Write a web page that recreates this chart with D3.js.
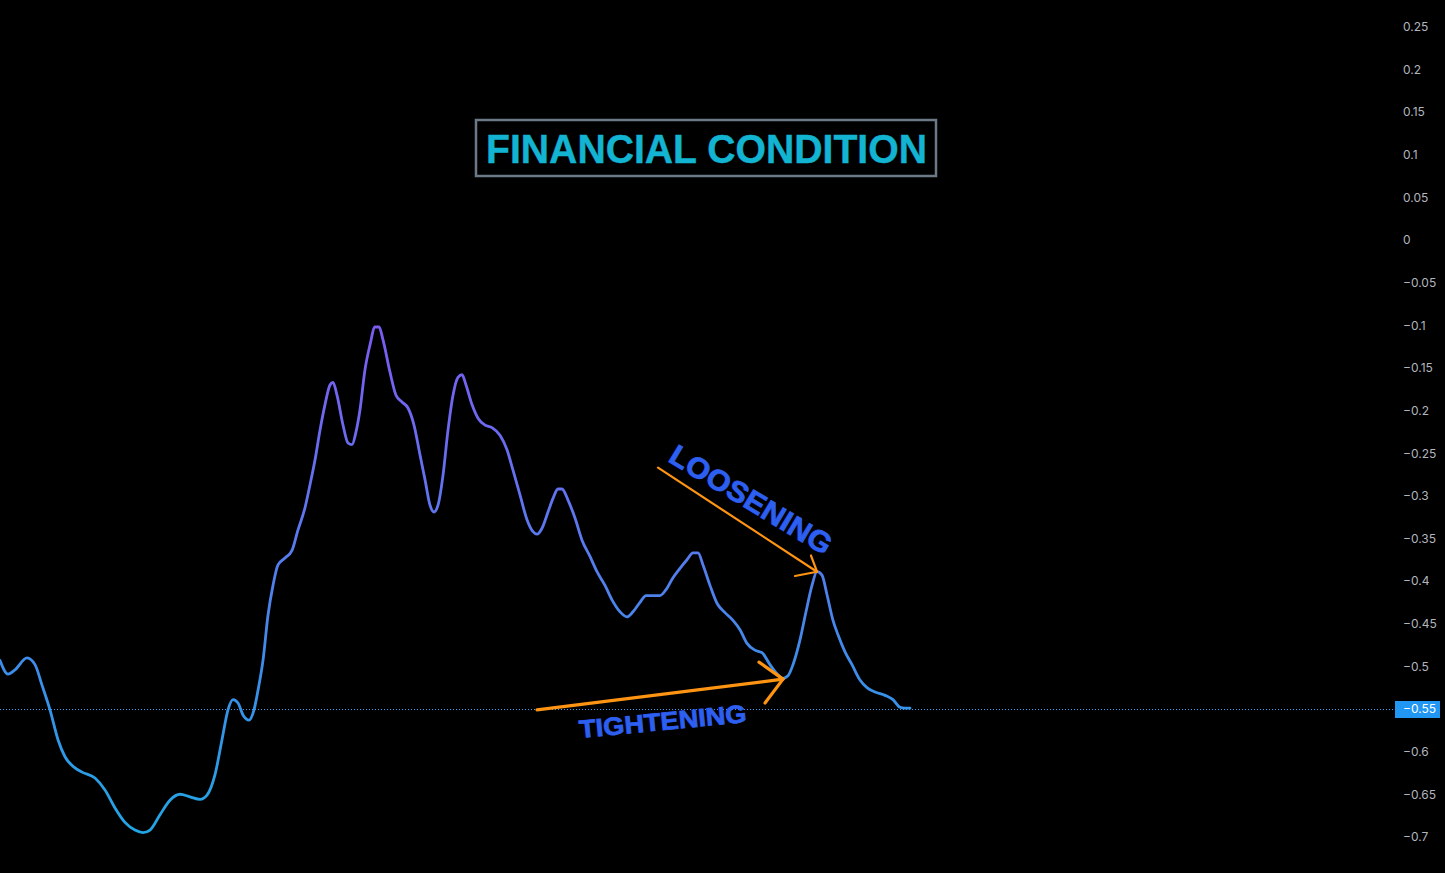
<!DOCTYPE html>
<meta charset="utf-8">
<html>
<head>
<script src="https://cdn.jsdelivr.net/npm/d3@7"></script>
<style>
  body { margin: 0; background: #000; }
  svg { display: block; }
</style>
</head>
<body>
<div id="chart"></div>
<script>
  // bar position and index value
  const bars = [0, 8, 15, 27, 35, 42, 50, 58, 65, 75, 82, 95, 105, 115, 125, 135, 143, 150, 160, 170,
    180, 190, 200, 207, 215, 222, 228, 233, 238, 243, 249, 254, 258, 263, 268, 273, 278, 285, 292, 298,
    305, 310, 315, 320, 325, 330, 333, 337, 343, 348, 352, 356, 360, 365, 370, 375, 379, 383, 390, 396,
    402, 408, 414, 420, 425, 430, 434, 438, 443, 448, 453, 458, 462, 466, 472, 478, 485, 492, 500, 507,
    513, 520, 527, 533, 537, 542, 548, 553, 558, 562, 568, 575, 582, 590, 597, 605, 612, 620, 627, 633,
    640, 646, 653, 660, 666, 673, 680, 687, 693, 698, 703, 710, 717, 725, 733, 740, 747, 755, 762, 770,
    778, 783, 788, 793, 800, 806, 812, 817, 822, 827, 833, 838, 845, 852, 860, 867, 875, 885, 893, 900,
    905, 910];
  const values = [-0.493, -0.509, -0.504, -0.490, -0.498, -0.522, -0.551, -0.586, -0.606, -0.619, -0.624, -0.631, -0.645, -0.666, -0.683, -0.692, -0.695, -0.692, -0.674, -0.657,
    -0.650, -0.653, -0.656, -0.651, -0.627, -0.586, -0.551, -0.539, -0.543, -0.557, -0.563, -0.551, -0.528, -0.493, -0.440, -0.405, -0.381, -0.373, -0.364, -0.340,
    -0.314, -0.287, -0.258, -0.223, -0.193, -0.170, -0.167, -0.182, -0.217, -0.238, -0.240, -0.225, -0.199, -0.152, -0.123, -0.102, -0.102, -0.117, -0.155, -0.182,
    -0.190, -0.197, -0.217, -0.252, -0.281, -0.311, -0.319, -0.311, -0.276, -0.223, -0.182, -0.161, -0.158, -0.170, -0.193, -0.209, -0.217, -0.220, -0.229, -0.246,
    -0.270, -0.299, -0.328, -0.342, -0.345, -0.338, -0.319, -0.303, -0.292, -0.292, -0.305, -0.326, -0.352, -0.371, -0.389, -0.405, -0.422, -0.436, -0.442, -0.436,
    -0.425, -0.417, -0.417, -0.417, -0.410, -0.396, -0.385, -0.375, -0.367, -0.367, -0.381, -0.405, -0.426, -0.437, -0.446, -0.457, -0.473, -0.481, -0.484, -0.498,
    -0.510, -0.514, -0.511, -0.498, -0.469, -0.436, -0.405, -0.389, -0.393, -0.416, -0.446, -0.463, -0.483, -0.498, -0.516, -0.525, -0.530, -0.534, -0.539, -0.548,
    -0.549, -0.549];
  const ticks = [0.25, 0.2, 0.15, 0.1, 0.05, 0, -0.05, -0.1, -0.15, -0.2, -0.25, -0.3, -0.35, -0.4, -0.45, -0.5, -0.55, -0.6, -0.65, -0.7];
  const lastValue = -0.55;

  const width = 1445, height = 873, plotRight = 1395;

  const svg = d3.select("#chart").append("svg")
    .attr("width", width)
    .attr("height", height)
    .style("background", "#000");

  const x = d3.scaleLinear().domain([0, plotRight]).range([0, plotRight]);
  const y = d3.scaleLinear().domain([0, -0.55]).range([240, 709]);

  // colour goes from blue at the bottom to purple at the top
  const grad = svg.append("defs").append("linearGradient")
    .attr("id", "lineGrad")
    .attr("gradientUnits", "userSpaceOnUse")
    .attr("x1", 0).attr("x2", 0)
    .attr("y1", y(-0.1)).attr("y2", y(-0.7));
  grad.append("stop").attr("offset", "0%").attr("stop-color", "#7c5cf2");
  grad.append("stop").attr("offset", "40%").attr("stop-color", "#5c78ee");
  grad.append("stop").attr("offset", "70%").attr("stop-color", "#3a8fe8");
  grad.append("stop").attr("offset", "100%").attr("stop-color", "#22a6e4");

  // right axis
  const axis = svg.append("g")
    .attr("transform", "translate(" + (plotRight + 8) + ",0)")
    .call(d3.axisRight(y).tickValues(ticks).tickSize(0).tickPadding(0)
      .tickFormat(d => d3.format("")(+d.toFixed(2)).replace("-", "\u2212")));
  axis.select(".domain").remove();
  axis.selectAll("text")
    .attr("fill", "#b2b5be")
    .style("font", "12px Inter, 'Noto Sans', sans-serif");

  // last value line
  svg.append("line")
    .attr("x1", 0).attr("x2", plotRight)
    .attr("y1", y(lastValue) + 0.5).attr("y2", y(lastValue) + 0.5)
    .attr("stroke", "#3aa2f4")
    .attr("stroke-width", 1)
    .attr("stroke-dasharray", "1,2");

  // the series
  const data = bars.map((b, i) => [b, values[i]]);
  svg.append("path")
    .datum(data)
    .attr("fill", "none")
    .attr("stroke", "url(#lineGrad)")
    .attr("stroke-width", 2.8)
    .attr("stroke-linejoin", "round")
    .attr("stroke-linecap", "round")
    .attr("d", d3.line().x(d => x(d[0])).y(d => y(d[1])).curve(d3.curveMonotoneX));

  // last value label
  svg.append("rect")
    .attr("x", plotRight).attr("y", y(lastValue) - 8)
    .attr("width", 45).attr("height", 17)
    .attr("fill", "#2196f3");
  svg.append("text")
    .attr("x", plotRight + 8).attr("y", y(lastValue) + 1)
    .attr("dominant-baseline", "middle")
    .attr("fill", "#fff")
    .style("font", "12px Inter, 'Noto Sans', sans-serif")
    .text(lastValue.toFixed(2).replace("-", "\u2212"));

  // title box
  svg.append("rect")
    .attr("x", 476).attr("y", 120)
    .attr("width", 460).attr("height", 56)
    .attr("fill", "none")
    .attr("stroke", "#6b7886")
    .attr("stroke-width", 2.5);
  svg.append("text")
    .attr("x", 486).attr("y", 163)
    .attr("textLength", 441)
    .attr("lengthAdjust", "spacingAndGlyphs")
    .attr("fill", "#12b4d2")
    .attr("stroke", "#12b4d2")
    .attr("stroke-width", 0.4)
    .style("font", "bold 40px 'Liberation Sans', Arial, sans-serif")
    .text("FINANCIAL CONDITION");

  // annotations, placed in bar / value space
  const orange = "#ff9412";
  function arrow(from, to, heads, w) {
    const g = svg.append("g")
      .attr("stroke", orange).attr("stroke-width", w)
      .attr("stroke-linecap", "round").attr("fill", "none");
    g.append("line")
      .attr("x1", x(from[0])).attr("y1", y(from[1]))
      .attr("x2", x(to[0])).attr("y2", y(to[1]));
    heads.forEach(h => g.append("line")
      .attr("x1", x(h[0])).attr("y1", y(h[1]))
      .attr("x2", x(to[0])).attr("y2", y(to[1])));
  }
  arrow([658, -0.267], [817, -0.389], [[795, -0.394], [811, -0.370]], 2.2);
  arrow([537, -0.551], [783, -0.515], [[759, -0.495], [765, -0.543]], 3.2);

  svg.append("text")
    .attr("transform", "translate(" + x(667) + "," + y(-0.259) + ") rotate(31)")
    .attr("textLength", 184)
    .attr("lengthAdjust", "spacingAndGlyphs")
    .attr("fill", "#2d5ff0")
    .attr("stroke", "#2d5ff0")
    .attr("stroke-width", 0.8)
    .style("font", "bold 29px 'Liberation Sans', Arial, sans-serif")
    .text("LOOSENING");
  svg.append("text")
    .attr("transform", "translate(" + x(580) + "," + y(-0.584) + ") rotate(-5.5)")
    .attr("textLength", 168)
    .attr("lengthAdjust", "spacingAndGlyphs")
    .attr("fill", "#2d5ff0")
    .attr("stroke", "#2d5ff0")
    .attr("stroke-width", 0.8)
    .style("font", "bold 25px 'Liberation Sans', Arial, sans-serif")
    .text("TIGHTENING");
</script>
</body>
</html>
